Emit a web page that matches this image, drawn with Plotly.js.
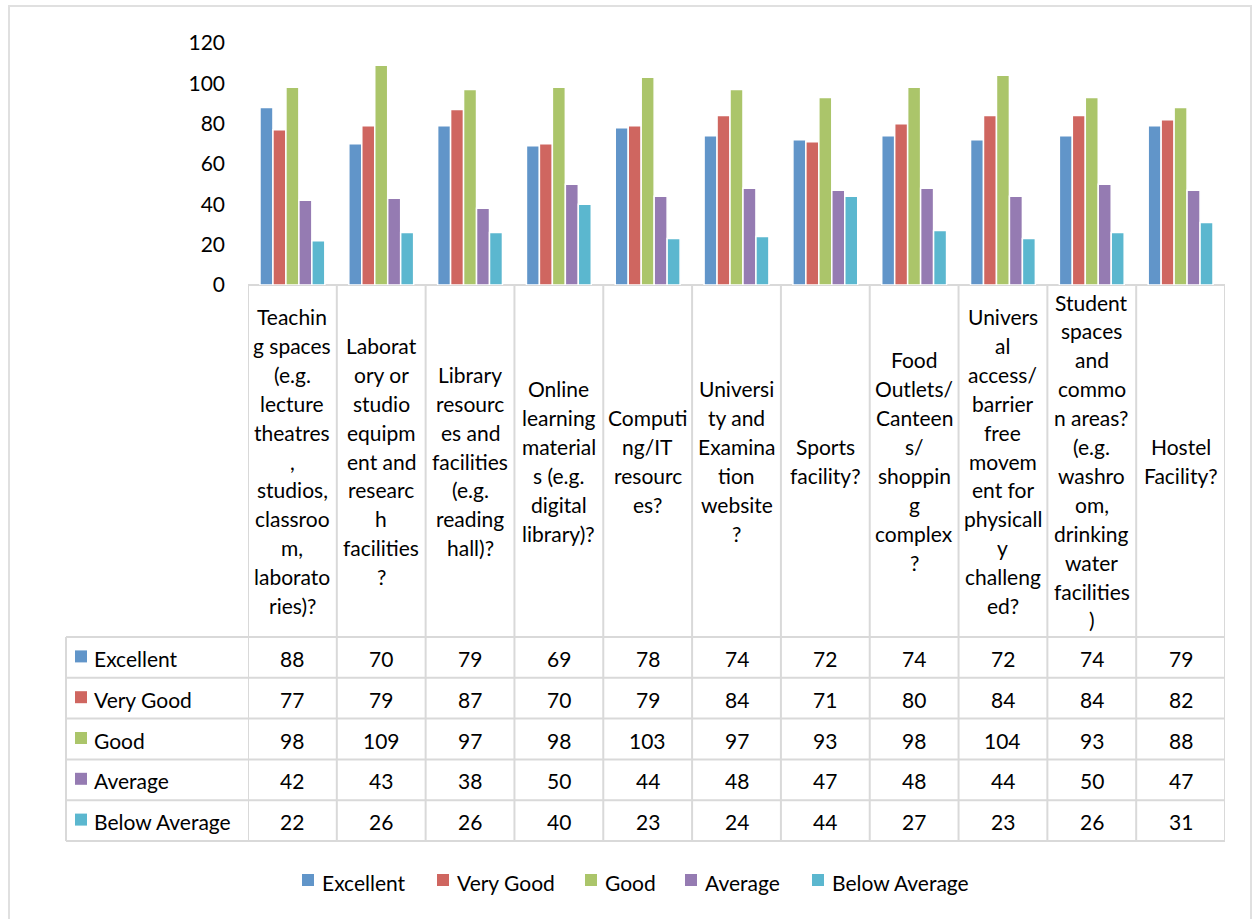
<!DOCTYPE html>
<html>
<head>
<meta charset="utf-8">
<script src="https://cdn.plot.ly/plotly-3.0.1.min.js"></script>
<style>html,body{margin:0;padding:0;background:#fff;}#chart{width:1254px;height:919px;}</style>
</head>
<body>
<div id="chart"></div>
<script>
// ---- data ----
const categories = [
  "Teachin<br>g spaces<br>(e.g.<br>lecture<br>theatres<br>,<br>studios,<br>classroo<br>m,<br>laborato<br>ries)?",
  "Laborat<br>ory or<br>studio<br>equipm<br>ent and<br>researc<br>h<br>facilities<br>?",
  "Library<br>resourc<br>es and<br>facilities<br>(e.g.<br>reading<br>hall)?",
  "Online<br>learning<br>material<br>s (e.g.<br>digital<br>library)?",
  "Computi<br>ng/IT<br>resourc<br>es?",
  "Universi<br>ty and<br>Examina<br>tion<br>website<br>?",
  "Sports<br>facility?",
  "Food<br>Outlets/<br>Canteen<br>s/<br>shoppin<br>g<br>complex<br>?",
  "Univers<br>al<br>access/<br>barrier<br>free<br>movem<br>ent for<br>physicall<br>y<br>challeng<br>ed?",
  "Student<br>spaces<br>and<br>commo<br>n areas?<br>(e.g.<br>washro<br>om,<br>drinking<br>water<br>facilities<br>)",
  "Hostel<br>Facility?"
];
const seriesNames = ["Excellent", "Very Good", "Good", "Average", "Below Average"];
const excellent    = [88, 70, 79, 69, 78, 74, 72, 74, 72, 74, 79];
const veryGood     = [77, 79, 87, 70, 79, 84, 71, 80, 84, 84, 82];
const good         = [98, 109, 97, 98, 103, 97, 93, 98, 104, 93, 88];
const average      = [42, 43, 38, 50, 44, 48, 47, 48, 44, 50, 47];
const belowAverage = [22, 26, 26, 40, 23, 24, 44, 27, 23, 26, 31];
const yTicks = [0, 20, 40, 60, 80, 100, 120];

// ---- styles ----
const colors = ["#6195C9", "#CF6660", "#ABC56A", "#957BB2", "#5BB7CF"];
const FONT = "Lato, 'Open Sans', sans-serif";
const FS = 21;
const GRID = "#d9d9d9";

const W = 1254, H = 919;
const X0 = 248, X1 = 1225, YB = 285, YT = 43;
const px = p => (p - X0) / (X1 - X0);
const py = p => (YB - p) / (YB - YT);

const seriesValues = [excellent, veryGood, good, average, belowAverage];
const idx = categories.map((_, i) => i);

const traces = seriesValues.map((vals, s) => ({
  type: "bar",
  name: seriesNames[s],
  x: idx,
  y: vals,
  marker: {color: colors[s], line: {color: "#ffffff", width: 1.5}},
  hoverinfo: "name+y",
  showlegend: false
}));

const shapes = [];
const annotations = [];
const line = (x0, y0, x1, y1) => shapes.push({
  type: "line", xref: "paper", yref: "paper",
  x0: x0, y0: y0, x1: x1, y1: y1,
  line: {color: GRID, width: 2}, layer: "below"
});

// outer frame
shapes.push({type: "rect", xref: "paper", yref: "paper",
  x0: px(9), x1: px(1251), y0: py(6), y1: py(940),
  line: {color: "#e0e0e0", width: 2}, fillcolor: "rgba(0,0,0,0)", layer: "below"});

// table geometry
const rowTop = 637, rowH = 40.8;
const nRows = seriesNames.length;
const tableBottom = rowTop + rowH * nRows;

line(0, py(YB), 1, py(YB));
for (let r = 0; r <= nRows; r++) {
  line(px(66), py(rowTop + r * rowH), 1, py(rowTop + r * rowH));
}
for (let i = 0; i <= categories.length; i++) {
  shapes.push({type: "line", xref: "x", yref: "paper",
    x0: i - 0.5, x1: i - 0.5, y0: py(YB), y1: py(tableBottom),
    line: {color: GRID, width: 2}, layer: "below"});
}
line(px(66), py(rowTop), px(66), py(tableBottom));

// category labels
const lineH = 28.9;
const cellMid = (YB + rowTop) / 2;
categories.forEach((cat, i) => {
  const parts = cat.split("<br>");
  const n = parts.length;
  parts.forEach((t, k) => {
    annotations.push({
      xref: "x", yref: "paper", x: i, y: py(cellMid + (k - (n - 1) / 2) * lineH),
      text: t, showarrow: false, xanchor: "center", yanchor: "middle",
      font: {family: FONT, size: FS, color: "#000"}
    });
  });
});

// table rows
seriesValues.forEach((vals, s) => {
  const cy = rowTop + rowH * (s + 0.5);
  shapes.push({type: "rect", xref: "paper", yref: "paper",
    x0: px(75), x1: px(87), y0: py(cy - 7), y1: py(cy + 5),
    fillcolor: colors[s], line: {width: 0}});
  annotations.push({
    xref: "paper", yref: "paper", x: px(92), y: py(cy + 1),
    text: seriesNames[s], showarrow: false, xanchor: "left", yanchor: "middle",
    font: {family: FONT, size: FS, color: "#000"}
  });
  vals.forEach((v, i) => {
    annotations.push({
      xref: "x", yref: "paper", x: i, y: py(cy + 1),
      text: String(v), showarrow: false, xanchor: "center", yanchor: "middle",
      font: {family: FONT, size: FS, color: "#000"}
    });
  });
});

// bottom legend
const legendX = [302, 437, 585, 685, 812];
const legendY = 881;
seriesNames.forEach((nm, s) => {
  shapes.push({type: "rect", xref: "paper", yref: "paper",
    x0: px(legendX[s]), x1: px(legendX[s] + 12), y0: py(legendY - 7), y1: py(legendY + 5),
    fillcolor: colors[s], line: {width: 0}});
  annotations.push({
    xref: "paper", yref: "paper", x: px(legendX[s] + 18), y: py(legendY + 1),
    text: nm, showarrow: false, xanchor: "left", yanchor: "middle",
    font: {family: FONT, size: FS, color: "#000"}
  });
});

const layout = {
  width: W, height: H,
  margin: {l: X0, r: W - X1, t: YT, b: H - YB, pad: 0},
  paper_bgcolor: "#ffffff", plot_bgcolor: "#ffffff",
  barmode: "group", bargap: 0.27, bargroupgap: 0,
  font: {family: FONT, size: FS, color: "#000"},
  xaxis: {
    type: "linear", range: [-0.5, categories.length - 0.5],
    showticklabels: false, showgrid: false, zeroline: false, showline: false, ticks: ""
  },
  yaxis: {
    range: [0, 120], tickvals: yTicks, ticktext: yTicks.map(String),
    showgrid: false, zeroline: false, showline: false, ticks: "",
    ticklabelstandoff: 22,
    tickfont: {family: FONT, size: FS, color: "#000"}
  },
  showlegend: false,
  shapes: shapes,
  annotations: annotations
};

Plotly.newPlot("chart", traces, layout, {displayModeBar: false, staticPlot: true});
</script>
</body>
</html>
